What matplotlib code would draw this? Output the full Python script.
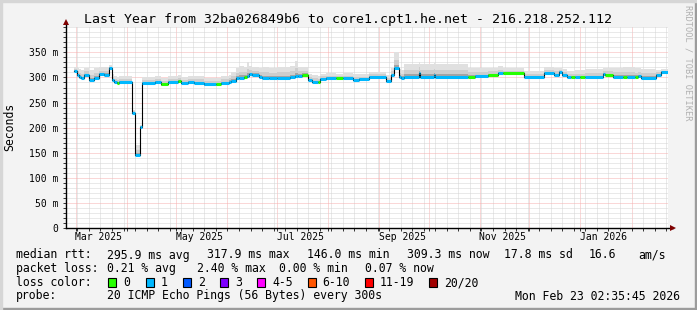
import numpy as np
import matplotlib.pyplot as plt
import matplotlib.dates as mdates
import matplotlib.ticker as mticker
from matplotlib.patches import Rectangle

plt.rcParams['font.family'] = 'DejaVu Sans Mono'

# graph window: last year ending Mon Feb 23 02:35:45 2026
t_start = np.datetime64('2025-02-23T02:35:45')
t_end = np.datetime64('2026-02-23T02:35:45')
data_end = np.datetime64('2026-02-23T00:00')

# median rtt as steps: each value holds until the next date (ms)
seg_start = [
    '2025-02-28', '2025-03-02', '2025-03-03', '2025-03-04', '2025-03-06', '2025-03-09',
    '2025-03-12', '2025-03-15', '2025-03-18', '2025-03-21', '2025-03-23', '2025-03-24',
    '2025-03-26', '2025-03-27', '2025-04-04', '2025-04-06', '2025-04-09', '2025-04-10',
    '2025-04-18', '2025-04-22', '2025-04-26', '2025-05-02', '2025-05-04', '2025-05-08',
    '2025-05-12', '2025-05-18', '2025-05-25', '2025-05-28', '2025-06-02', '2025-06-03',
    '2025-06-06', '2025-06-08', '2025-06-11', '2025-06-13', '2025-06-14', '2025-06-16',
    '2025-06-20', '2025-06-22', '2025-06-26', '2025-07-01', '2025-07-09', '2025-07-12',
    '2025-07-14', '2025-07-16', '2025-07-20', '2025-07-22', '2025-07-26', '2025-07-27',
    '2025-07-31', '2025-08-06', '2025-08-10', '2025-08-16', '2025-08-20', '2025-08-26',
    '2025-09-05', '2025-09-08', '2025-09-10', '2025-09-13', '2025-09-14', '2025-09-16',
    '2025-09-25', '2025-09-26', '2025-10-04', '2025-10-05', '2025-10-25', '2025-10-29',
    '2025-11-06', '2025-11-12', '2025-11-15', '2025-11-28', '2025-12-10', '2025-12-16',
    '2025-12-19', '2025-12-21', '2025-12-24', '2025-12-26', '2025-12-29', '2026-01-01',
    '2026-01-04', '2026-01-15', '2026-01-16', '2026-01-21', '2026-01-27', '2026-01-29',
    '2026-02-03', '2026-02-05', '2026-02-07', '2026-02-16', '2026-02-19',
]
median_ms = [
    313, 305, 301, 298, 305, 295,
    299, 306, 305, 319, 295, 290,
    289, 291, 230, 146, 202, 289,
    290, 286, 290, 292, 289, 291,
    289, 286, 286, 289, 291, 293,
    298, 299, 300, 303, 306, 305,
    301, 299, 298, 299, 301, 303,
    303, 305, 295, 291, 291, 297,
    298, 299, 298, 295, 296, 301,
    293, 305, 318, 301, 299, 301,
    308, 301, 304, 301, 301, 302,
    305, 308, 308, 301, 308, 305,
    311, 305, 300, 300, 300, 300,
    300, 306, 305, 301, 300, 300,
    300, 302, 299, 305, 311,
]
# loss per step: 0 -> no loss, 1 -> 1/20 lost
loss_idx = [
    1, 1, 1, 1, 1, 1,
    1, 1, 1, 1, 1, 1,
    0, 1, 1, 1, 1, 1,
    1, 0, 1, 0, 1, 1,
    1, 1, 0, 1, 1, 1,
    1, 1, 0, 1, 1, 1,
    1, 1, 1, 1, 1, 1,
    1, 0, 1, 1, 0, 1,
    1, 0, 1, 1, 1, 1,
    1, 1, 1, 1, 1, 1,
    1, 1, 1, 1, 0, 1,
    0, 1, 0, 1, 1, 1,
    1, 1, 1, 0, 1, 0,
    1, 1, 0, 1, 0, 1,
    0, 1, 1, 1, 1,
]
# top of the ping smoke (ms)
smoke_top = [
    321, 318, 316, 314, 318, 314,
    318, 320, 320, 324, 306, 302,
    300, 302, 236, 165, 206, 300,
    302, 298, 303, 304, 300, 303,
    302, 298, 298, 302, 305, 310,
    318, 322, 320, 330, 322, 320,
    318, 320, 318, 320, 322, 332,
    320, 320, 306, 304, 302, 306,
    308, 306, 308, 306, 306, 310,
    304, 318, 350, 316, 314, 326,
    330, 326, 328, 326, 318, 318,
    318, 322, 318, 312, 320, 318,
    318, 316, 312, 312, 314, 314,
    316, 318, 318, 318, 320, 320,
    318, 318, 316, 314, 316,
]

loss_colors = ['#26ff00', '#00b8ff', '#0059ff', '#7e00ff',
               '#ff00ff', '#ff5500', '#ff0000', '#a10000']
loss_labels = ['0', '1', '2', '3', '4-5', '6-10', '11-19', '20/20']

month_labels = ['Mar 2025', 'May 2025', 'Jul 2025', 'Sep 2025', 'Nov 2025', 'Jan 2026']
month_label_at = ['2025-03-15', '2025-05-15', '2025-07-15',
                  '2025-09-15', '2025-11-15', '2026-01-15']

W, H = 697, 310
fig = plt.figure(figsize=(W / 100, H / 100), dpi=100, facecolor='#f3f3f3')

# frame shading
fig.patches.append(Rectangle((0, 0), 1, 2 / H, transform=fig.transFigure, color='#9c9c9c'))
fig.patches.append(Rectangle((1 - 2 / W, 0), 2 / W, 1, transform=fig.transFigure, color='#9c9c9c'))
fig.patches.append(Rectangle((0, 1 - 2 / H), 1, 2 / H, transform=fig.transFigure, color='#d6d6d6'))
fig.patches.append(Rectangle((0, 0), 2 / W, 1, transform=fig.transFigure, color='#d6d6d6'))

ax = fig.add_axes([66 / W, (H - 228) / H, (668 - 66) / W, (228 - 27.3) / H])
ax.set_facecolor('white')

x = mdates.date2num(np.array(seg_start, dtype='datetime64[s]'))
xe = np.append(x, mdates.date2num(data_end))
med = np.array(median_ms, dtype=float)
top = np.array(smoke_top, dtype=float)
mede = np.append(med, med[-1])
tope = np.append(top, top[-1])

# smoke, darker towards the median
for frac, col in [(1.0, '#e0e0e0'), (0.55, '#cdcdcd'), (0.22, '#a4a4a4')]:
    ax.fill_between(xe, mede - 2, mede + frac * (tope - mede), step='post',
                    color=col, lw=0, zorder=2)

ax.step(xe, mede, where='post', color='black', lw=0.8, zorder=3)
ax.hlines(med, xe[:-1], xe[1:], colors=[loss_colors[i] for i in loss_idx],
          lw=2.2, zorder=4)

ax.set_xlim(mdates.date2num(t_start), mdates.date2num(t_end))
ax.set_ylim(0, 400)
ax.xaxis.set_major_locator(mdates.MonthLocator())
ax.xaxis.set_minor_locator(mdates.WeekdayLocator(byweekday=mdates.SU))
ax.xaxis.set_major_formatter(mticker.NullFormatter())
ax.yaxis.set_major_locator(mticker.FixedLocator(np.arange(0, 351, 50)))
ax.yaxis.set_minor_locator(mticker.MultipleLocator(10))
ax.yaxis.set_major_formatter(mticker.FuncFormatter(
    lambda v, p: '0' if v == 0 else f'{v:.0f} m'))

ax.grid(which='minor', color='#d4d4d4', lw=0.72, ls=(0, (1, 1)))
ax.grid(which='major', color='#f6b0b0', lw=0.72, ls=(0, (1, 1)))
ax.set_axisbelow(True)
ax.tick_params(axis='both', which='both', direction='out', length=2, width=0.7,
               color='#333333')
ax.tick_params(axis='y', which='major', labelsize=7, pad=3.5)
for s in ax.spines.values():
    s.set_visible(False)

# axes with arrows
ax.plot([0, 1.008], [0, 0], transform=ax.transAxes, color='black', lw=1,
        clip_on=False, zorder=6)
ax.plot([0, 0], [0, 1.027], transform=ax.transAxes, color='black', lw=1,
        clip_on=False, zorder=6)
ax.plot([1.008], [0], marker='>', color='#7f0000', ms=4, mew=0,
        transform=ax.transAxes, clip_on=False, zorder=7)
ax.plot([0], [1.027], marker='^', color='#7f0000', ms=4, mew=0,
        transform=ax.transAxes, clip_on=False, zorder=7)

for lab, d in zip(month_labels, month_label_at):
    ax.text(mdates.date2num(np.datetime64(d)), -9 / 200.7, lab, ha='center',
            va='center', fontsize=7, transform=ax.get_xaxis_transform())

fig.text(347.5 / W, 1 - 19 / H,
         'Last Year from 32ba026849b6 to core1.cpt1.he.net - 216.218.252.112',
         ha='center', va='center', fontsize=9.5)
fig.text(10 / W, 1 - 127 / H, 'Seconds', rotation=90, ha='center', va='center',
         fontsize=8.3)
fig.text(688 / W, 1 - 5 / H, 'RRDTOOL / TOBI OETIKER', rotation=270, ha='center',
         va='top', fontsize=6.2, color='#b0b0b0')

# legend block
fs = 8.3
line1 = [(16, 'median rtt:'), (107.3, '295.9 ms avg'), (207.3, '317.9 ms max'),
         (307.3, '146.0 ms min'), (407.3, '309.3 ms now'), (504, '17.8 ms sd'),
         (589, '16.6'), (638, 'am/s')]
line2 = [(16, 'packet loss:'), (107.3, '0.21 % avg'), (196.7, '2.40 % max'),
         (279.3, '0.00 % min'), (365, '0.07 % now')]
for px, s in line1:
    fig.text(px / W, 1 - 255 / H, s, ha='left', va='center', fontsize=fs)
for px, s in line2:
    fig.text(px / W, 1 - 268.3 / H, s, ha='left', va='center', fontsize=fs)

fig.text(16 / W, 1 - 282.7 / H, 'loss color:', ha='left', va='center', fontsize=fs)
bx = 108.3
for col, lab in zip(loss_colors, loss_labels):
    fig.patches.append(Rectangle((bx / W, (H - 282.7 - 4.5) / H), 8 / W, 9 / H,
                                 transform=fig.transFigure, facecolor=col,
                                 edgecolor='black', lw=0.8))
    fig.text((bx + 15) / W, 1 - 282.7 / H, lab, ha='left', va='center', fontsize=fs)
    bx += 30.5 + 6.7 * len(lab)

fig.text(16 / W, 1 - 296 / H, 'probe:', ha='left', va='center', fontsize=fs)
fig.text(107.3 / W, 1 - 296 / H, '20 ICMP Echo Pings (56 Bytes) every 300s',
         ha='left', va='center', fontsize=fs)
fig.text(680 / W, 1 - 296 / H, 'Mon Feb 23 02:35:45 2026', ha='right',
         va='center', fontsize=fs)

fig.savefig('out.png', dpi=100, facecolor=fig.get_facecolor())
